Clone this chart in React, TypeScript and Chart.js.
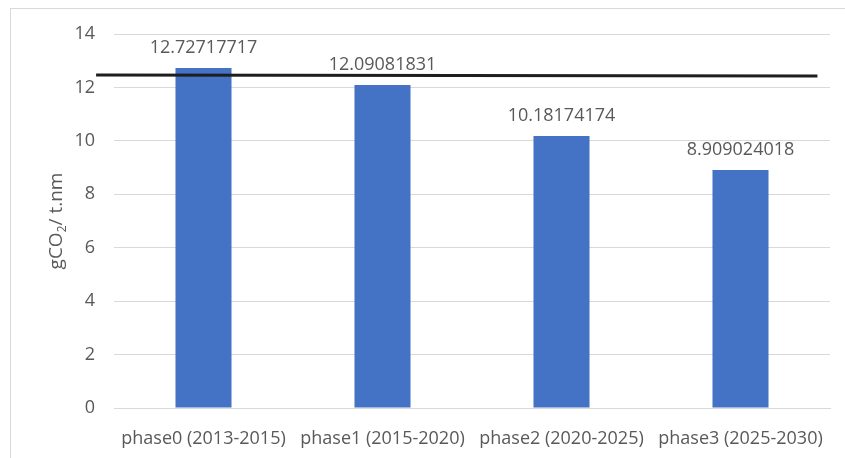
import { useEffect, useRef } from "react";
import { Chart, registerables } from "chart.js";

Chart.register(...registerables);

const categories = [
  "phase0 (2013-2015)",
  "phase1 (2015-2020)",
  "phase2 (2020-2025)",
  "phase3 (2025-2030)",
];
const intensity = [12.72717717, 12.09081831, 10.18174174, 8.909024018];
const valueLabels = ["12.72717717", "12.09081831", "10.18174174", "8.909024018"];
const yTicks = [0, 2, 4, 6, 8, 10, 12, 14];
// Reference line: start/end positions on the category axis and their values
const refLineX = [-0.6, 3.43];
const refLineY = [12.465, 12.43];

const TEXT = "#595959";
const GRID = "#D9D9D9";
const BAR = "#4472C4";
const FONT = "'Open Sans', sans-serif";

const framePlugin = {
  id: "frame",
  beforeDraw(chart: any) {
    const { ctx } = chart;
    ctx.save();
    ctx.fillStyle = "#ffffff";
    ctx.fillRect(0, 0, chart.width, chart.height);
    ctx.strokeStyle = GRID;
    ctx.lineWidth = 1;
    ctx.strokeRect(10.5, 8.5, chart.width + 20, chart.height + 20);
    ctx.restore();
  },
};

const overlayPlugin = {
  id: "overlay",
  afterDatasetsDraw(chart: any) {
    const { ctx, chartArea } = chart;
    const xs = chart.scales.x;
    const ys = chart.scales.y;
    const meta = chart.getDatasetMeta(0);

    // value labels above each bar
    ctx.save();
    ctx.fillStyle = TEXT;
    ctx.font = `18px ${FONT}`;
    ctx.textAlign = "center";
    ctx.textBaseline = "alphabetic";
    meta.data.forEach((el: any, i: number) => {
      ctx.fillText(valueLabels[i], el.x, el.y - 15);
    });
    ctx.restore();

    // reference line
    ctx.save();
    ctx.strokeStyle = "#1e1e1e";
    ctx.lineWidth = 3;
    ctx.beginPath();
    ctx.moveTo(xs.getPixelForValue(refLineX[0]), ys.getPixelForValue(refLineY[0]));
    ctx.lineTo(xs.getPixelForValue(refLineX[1]), ys.getPixelForValue(refLineY[1]));
    ctx.stroke();
    ctx.restore();

    // y-axis title with subscript
    ctx.save();
    ctx.translate(chartArea.left - 57, (chartArea.top + chartArea.bottom) / 2);
    ctx.rotate(-Math.PI / 2);
    ctx.fillStyle = TEXT;
    ctx.textBaseline = "middle";
    ctx.textAlign = "left";
    const mainFont = `19px ${FONT}`;
    const subFont = `12px ${FONT}`;
    const parts = ["gCO", "2", "/ t.nm"];
    ctx.font = mainFont;
    const w0 = ctx.measureText(parts[0]).width;
    const w2 = ctx.measureText(parts[2]).width;
    ctx.font = subFont;
    const w1 = ctx.measureText(parts[1]).width;
    let x = -(w0 + w1 + w2) / 2;
    ctx.font = mainFont;
    ctx.fillText(parts[0], x, 0);
    x += w0;
    ctx.font = subFont;
    ctx.fillText(parts[1], x, 6);
    x += w1;
    ctx.font = mainFont;
    ctx.fillText(parts[2], x, 0);
    ctx.restore();
  },
};

export default function App() {
  const ref = useRef<HTMLCanvasElement>(null);

  useEffect(() => {
    if (!ref.current) return;
    const chart = new Chart(ref.current, {
      type: "bar",
      data: {
        labels: categories,
        datasets: [
          {
            data: intensity,
            backgroundColor: BAR,
            borderWidth: 0,
            categoryPercentage: 1,
            barPercentage: 0.313,
          },
        ],
      },
      options: {
        animation: false,
        responsive: false,
        devicePixelRatio: 1,
        layout: { padding: { left: 10, right: 15, top: 34, bottom: 0 } },
        plugins: {
          legend: { display: false },
          tooltip: { enabled: false },
          title: { display: false },
        },
        scales: {
          x: {
            grid: { display: false },
            border: { display: true, color: GRID, width: 1 },
            ticks: {
              color: TEXT,
              font: { family: FONT, size: 18 },
              padding: 12,
              maxRotation: 0,
              autoSkip: false,
            },
            afterFit(scale: any) {
              scale.height = 50;
            },
          },
          y: {
            min: 0,
            max: 14,
            grid: { color: GRID, lineWidth: 1, drawTicks: false },
            border: { display: false },
            ticks: {
              color: TEXT,
              font: { family: FONT, size: 18 },
              padding: 19,
            },
            afterBuildTicks(scale: any) {
              scale.ticks = yTicks.map((v) => ({ value: v }));
            },
            afterFit(scale: any) {
              scale.width = 104;
              scale.paddingTop = 0;
              scale.paddingBottom = 0;
            },
          },
        },
      },
      plugins: [framePlugin, overlayPlugin],
    });
    return () => chart.destroy();
  }, []);

  return (
    <div style={{ position: "fixed", left: 0, top: 0, width: 845, height: 458 }}>
      <canvas ref={ref} width={845} height={458} style={{ display: "block" }} />
    </div>
  );
}
